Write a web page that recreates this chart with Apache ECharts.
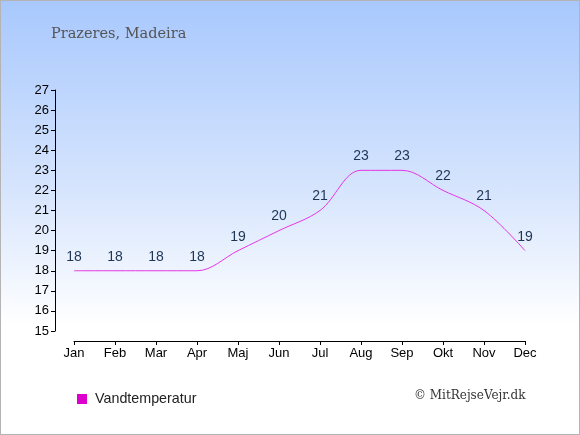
<!DOCTYPE html>
<html>
<head>
<meta charset="utf-8">
<script src="https://cdn.jsdelivr.net/npm/echarts@6/dist/echarts.min.js"></script>
<style>
html, body { margin: 0; padding: 0; }
.chart { width: 578px; height: 433px; border: 1px solid #b4b4b4;
  background: linear-gradient(to bottom, #a8c8fd 0%, #d8e6fd 45%, #ffffff 75%, #ffffff 100%); }
</style>
</head>
<body>
<div class="chart"></div>
<script>
// data
var months = ["Jan", "Feb", "Mar", "Apr", "Maj", "Jun", "Jul", "Aug", "Sep", "Okt", "Nov", "Dec"];
var waterTemp = [18, 18, 18, 18, 19, 20, 21, 23, 23, 22, 21, 19];
var seriesName = "Vandtemperatur";

var myChart = echarts.init(document.querySelector(".chart"));
var option = {
    animation: false,
    title: {
        text: "Prazeres, Madeira",
        left: 45,
        top: 21,
        textStyle: { fontFamily: "DejaVu Serif", fontWeight: "normal", fontSize: 14.5, color: "#555555" }
    },
    legend: {
        left: 71,
        top: 386,
        itemWidth: 10,
        itemHeight: 10,
        itemGap: 8,
        icon: "rect",
        textStyle: { fontFamily: "Liberation Sans", fontSize: 14.3, color: "#222222", padding: [0, 0, 0, 3] },
        data: [seriesName]
    },
    graphic: [{
        type: "text",
        left: 413,
        top: 389,
        style: { text: "© MitRejseVejr.dk", font: "12px 'DejaVu Serif'", fill: "#333333" }
    }],
    grid: { left: 73, right: 54, top: 89, bottom: 103 },
    xAxis: {
        type: "category",
        data: months,
        boundaryGap: false,
        offset: 10,
        axisLine: { lineStyle: { color: "#000", width: 1 } },
        axisTick: { alignWithLabel: true, length: 4, lineStyle: { color: "#000" } },
        axisLabel: { color: "#000", fontFamily: "Liberation Sans", fontSize: 13, margin: 6, interval: 0 }
    },
    yAxis: {
        type: "value",
        min: 15,
        max: 27,
        interval: 1,
        offset: 19,
        splitLine: { show: false },
        axisLine: { show: true, lineStyle: { color: "#000", width: 1 } },
        axisTick: { show: true, length: 4, lineStyle: { color: "#000" } },
        axisLabel: { color: "#000", fontFamily: "Liberation Sans", fontSize: 13, margin: 6 }
    },
    series: [{
        name: seriesName,
        type: "line",
        data: waterTemp,
        smooth: 0.35,
        symbol: "circle",
        symbolSize: 0,
        showSymbol: true,
        itemStyle: { color: "#dd00cc" },
        lineStyle: { color: "#e633e6", width: 1 },
        label: {
            show: true,
            position: "top",
            distance: 7,
            color: "#1e3556",
            fontFamily: "Liberation Sans",
            fontSize: 14
        }
    }]
};
myChart.setOption(option);
</script>
</body>
</html>
